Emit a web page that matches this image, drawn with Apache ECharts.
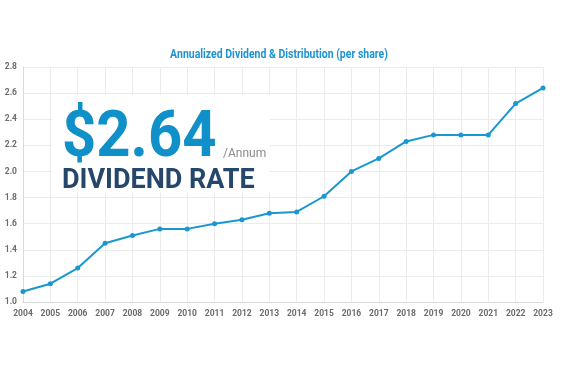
<!DOCTYPE html>
<html>
<head>
<meta charset="utf-8">
<style>
html,body{margin:0;padding:0;background:#fff;}
#c{width:564px;height:373px;}
</style>
<script src="https://cdn.jsdelivr.net/npm/echarts@6/dist/echarts.min.js"></script>
</head>
<body>
<div id="c"></div>
<script>
var years = ['2004','2005','2006','2007','2008','2009','2010','2011','2012','2013','2014','2015','2016','2017','2018','2019','2020','2021','2022','2023'];
var dividend = [1.08,1.14,1.26,1.45,1.51,1.56,1.56,1.60,1.63,1.68,1.69,1.81,2.00,2.10,2.23,2.28,2.28,2.28,2.52,2.64];
var yTicks = {min:1.0, max:2.8, interval:0.2};
var titleText = 'Annualized Dividend & Distribution (per share)';
var bigValue = '$2.64';
var perText = '/Annum';
var rateText = 'DIVIDEND RATE';

var chart = echarts.init(document.getElementById('c'), null, {renderer:'canvas'});
var lab = 'Roboto, sans-serif';
chart.setOption({
  animation:false,
  backgroundColor:'#fff',
  grid:{left:23, right:21, top:67, bottom:71},
  xAxis:{
    type:'category', data:years, boundaryGap:false,
    axisLine:{lineStyle:{color:'#d9d9d9', width:1}},
    axisTick:{show:false},
    axisLabel:{interval:0, fontFamily:lab, fontSize:8.5, fontWeight:'bold', color:'#6b6b6b', margin:7},
    splitLine:{show:true, lineStyle:{color:'#ebebeb', width:1}}
  },
  yAxis:{
    type:'value', min:yTicks.min, max:yTicks.max, interval:yTicks.interval,
    axisLine:{show:true, lineStyle:{color:'#d9d9d9', width:1}},
    axisTick:{show:false},
    axisLabel:{fontFamily:lab, fontSize:8.5, fontWeight:'bold', color:'#6b6b6b', margin:6,
      formatter:function(v){return v.toFixed(1);}},
    splitLine:{show:true, lineStyle:{color:'#ebebeb', width:1}}
  },
  graphic:[
    {type:'text', x:279, y:48, z:2, scaleX:0.84, style:{text:titleText, fill:'#1c93cf', font:'bold 12.5px Roboto, sans-serif', align:'center', verticalAlign:'top'}},
    {type:'rect', shape:{x:52, y:95, width:218, height:97}, style:{fill:'#fff'}, z:1},
    {type:'text', x:62, y:107, z:2, scaleX:0.92, style:{text:bigValue, fill:'#0f90c8', font:'bold 65px Roboto, sans-serif', verticalAlign:'top'}},
    {type:'text', x:223, y:148, z:2, style:{text:perText, fill:'#8a8a8a', font:'12px Roboto, sans-serif', verticalAlign:'top'}},
    {type:'text', x:62, y:168, z:2, style:{text:rateText, fill:'#24476b', font:'bold 27px Roboto, sans-serif', verticalAlign:'top'}}
  ],
  series:[{
    type:'line', data:dividend, z:5,
    symbol:'circle', symbolSize:5,
    lineStyle:{color:'#1a97d0', width:2},
    itemStyle:{color:'#1a97d0'}
  }]
});
</script>
</body>
</html>
